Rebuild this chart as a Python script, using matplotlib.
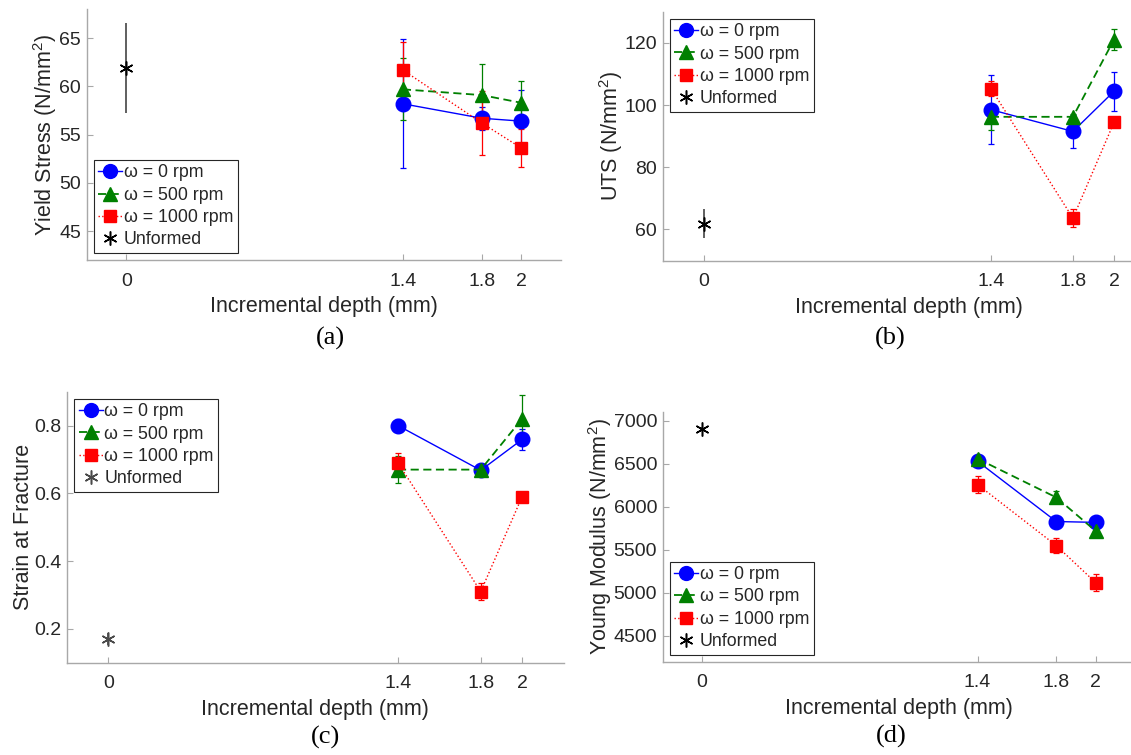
import matplotlib
matplotlib.use("Agg")
import matplotlib.pyplot as plt
from matplotlib.lines import Line2D

plt.rcParams["font.family"] = ["Liberation Sans", "DejaVu Sans"]
plt.rcParams["mathtext.fontset"] = "custom"
plt.rcParams["mathtext.rm"] = "Liberation Sans"
plt.rcParams["mathtext.it"] = "Liberation Sans:italic"

# ---- data -------------------------------------------------------------
depth = [1.4, 1.8, 2.0]
unformed_depth = [0.0]
x_ticks = [0, 1.4, 1.8, 2]
x_tick_labels = ["0", "1.4", "1.8", "2"]
series_labels = ["ω = 0 rpm", "ω = 500 rpm", "ω = 1000 rpm"]
unformed_label = "Unformed"

# (a) yield stress
ys_rpm0 = [58.2, 56.7, 56.4]
ys_rpm0_err = [6.7, 1.2, 3.2]
ys_rpm500 = [59.7, 59.1, 58.3]
ys_rpm500_err = [3.2, 3.2, 2.3]
ys_rpm1000 = [61.7, 56.2, 53.6]
ys_rpm1000_err = [2.9, 3.35, 2.0]
ys_unformed = [61.9]
ys_unformed_err = [4.65]

# (b) ultimate tensile strength
uts_rpm0 = [98.5, 91.5, 104.4]
uts_rpm0_err = [11.0, 5.4, 6.2]
uts_rpm500 = [96.2, 96.2, 121.0]
uts_rpm500_err = [4.1, 1.0, 3.4]
uts_rpm1000 = [105.3, 63.6, 94.4]
uts_rpm1000_err = [2.5, 2.8, 1.0]
uts_unformed = [61.8]
uts_unformed_err = [4.7]

# (c) strain at fracture
sf_rpm0 = [0.80, 0.668, 0.759]
sf_rpm0_err = [0.02, 0.01, 0.03]
sf_rpm500 = [0.67, 0.67, 0.82]
sf_rpm500_err = [0.04, 0.01, 0.07]
sf_rpm1000 = [0.69, 0.31, 0.59]
sf_rpm1000_err = [0.03, 0.025, 0.005]
sf_unformed = [0.17]
sf_unformed_err = [0.017]

# (d) Young modulus
ym_rpm0 = [6530, 5830, 5820]
ym_rpm0_err = [30, 30, 30]
ym_rpm500 = [6560, 6110, 5720]
ym_rpm500_err = [40, 70, 40]
ym_rpm1000 = [6260, 5550, 5120]
ym_rpm1000_err = [100, 90, 95]
ym_unformed = [6910]
ym_unformed_err = [20]

# ---- styling ----------------------------------------------------------
AXIS_GREY = "#a8a8a8"
TEXT_DARK = "#262626"
TICK_FS = 14
LABEL_FS = 15.5
LEGEND_FS = 12.8
series_styles = [
    dict(color="#0000ff", marker="o", ms=10.5, ls="-", lw=1.0),
    dict(color="#008000", marker="^", ms=10.5, ls=(0, (4.5, 2.5)), lw=1.3),
    dict(color="#ff0000", marker="s", ms=8.5, ls=":", lw=1.0),
]
ASTERISK = (6, 2, 0)

fig = plt.figure(figsize=(11.31, 7.55), dpi=100)
W, H = 1131.0, 755.0


def add_axes_px(x0, y0, x1, y1):
    return fig.add_axes([x0 / W, (H - y1) / H, (x1 - x0) / W, (y1 - y0) / H])


def draw_panel(ax, series, errors, unformed, unformed_err, ylabel, ylim, yticks,
               legend_loc, star_color="black"):
    for vals, errs, st in zip(series, errors, series_styles):
        ax.errorbar(depth, vals, yerr=errs, color=st["color"], ls=st["ls"],
                    lw=st["lw"], marker=st["marker"], ms=st["ms"],
                    mec=st["color"], mfc=st["color"], elinewidth=0.9,
                    capsize=2.2, capthick=0.9, zorder=3)
    ax.errorbar(unformed_depth, unformed, yerr=unformed_err, color=star_color,
                ecolor="#444444", elinewidth=1.2, capsize=0, ls="none",
                marker=ASTERISK, ms=10, mew=1.1, zorder=4)

    ax.set_xlim(-0.2, 2.2)
    ax.set_ylim(*ylim)
    ax.set_xticks(x_ticks)
    ax.set_xticklabels(x_tick_labels)
    ax.set_yticks(yticks)
    for side in ("top", "right"):
        ax.spines[side].set_visible(False)
    for side in ("left", "bottom"):
        ax.spines[side].set_color(AXIS_GREY)
        ax.spines[side].set_linewidth(1.0)
    ax.tick_params(axis="both", direction="in", length=4, width=0.8,
                   color=AXIS_GREY, labelcolor=TEXT_DARK, labelsize=TICK_FS)
    ax.tick_params(axis="x", pad=9)
    ax.tick_params(axis="y", pad=4)
    ax.set_xlabel("Incremental depth (mm)", fontsize=LABEL_FS, color=TEXT_DARK,
                  labelpad=5)
    ax.set_ylabel(ylabel, fontsize=LABEL_FS, color=TEXT_DARK, labelpad=0)

    handles = [Line2D([], [], color=st["color"], ls=st["ls"], lw=st["lw"],
                      marker=st["marker"], ms=st["ms"] * 0.95)
               for st in series_styles]
    handles.append(Line2D([], [], color=star_color, ls="none",
                          marker=ASTERISK, ms=10, mew=1.1))
    leg = ax.legend(handles, series_labels + [unformed_label], loc=legend_loc,
                    fontsize=LEGEND_FS, frameon=True, fancybox=False,
                    framealpha=1, edgecolor=TEXT_DARK, borderpad=0.25,
                    handlelength=1.35, handletextpad=0.1, labelspacing=0.3,
                    borderaxespad=0.4)
    leg.get_frame().set_linewidth(0.8)
    for t in leg.get_texts():
        t.set_color(TEXT_DARK)


ax_a = add_axes_px(86.7, 9.3, 561.0, 260.0)
draw_panel(ax_a,
           [ys_rpm0, ys_rpm500, ys_rpm1000],
           [ys_rpm0_err, ys_rpm500_err, ys_rpm1000_err],
           ys_unformed, ys_unformed_err,
           r"Yield Stress (N/mm$^2$)", (42, 68), [45, 50, 55, 60, 65],
           "lower left")

ax_b = add_axes_px(662.7, 11.7, 1155.0, 260.5)
draw_panel(ax_b,
           [uts_rpm0, uts_rpm500, uts_rpm1000],
           [uts_rpm0_err, uts_rpm500_err, uts_rpm1000_err],
           uts_unformed, uts_unformed_err,
           r"UTS (N/mm$^2$)", (50, 130), [60, 80, 100, 120],
           "upper left")

ax_c = add_axes_px(67.0, 391.7, 563.5, 662.7)
draw_panel(ax_c,
           [sf_rpm0, sf_rpm500, sf_rpm1000],
           [sf_rpm0_err, sf_rpm500_err, sf_rpm1000_err],
           sf_unformed, sf_unformed_err,
           "Strain at Fracture", (0.1, 0.9), [0.2, 0.4, 0.6, 0.8],
           "upper left", star_color="#4a4a4a")

ax_d = add_axes_px(662.7, 412.3, 1135.0, 661.7)
draw_panel(ax_d,
           [ym_rpm0, ym_rpm500, ym_rpm1000],
           [ym_rpm0_err, ym_rpm500_err, ym_rpm1000_err],
           ym_unformed, ym_unformed_err,
           r"Young Modulus (N/mm$^2$)", (4200, 7100),
           [4500, 5000, 5500, 6000, 6500, 7000],
           "lower left")

# sub-figure captions
for label, (px, py) in zip(["(a)", "(b)", "(c)", "(d)"],
                           [(330, 338), (890, 338), (325, 737), (891, 736)]):
    fig.text(px / W, 1 - py / H, label, ha="center", va="center",
             fontsize=19, family="Liberation Serif", color="black")

fig.savefig("out.png", dpi=100)
